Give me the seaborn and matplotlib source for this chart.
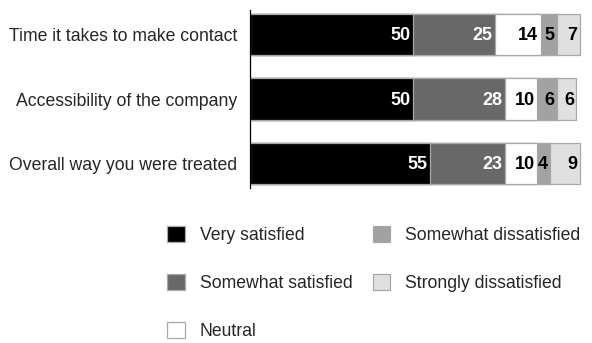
import matplotlib
matplotlib.use("Agg")
import matplotlib.pyplot as plt
import matplotlib.patches as mpatches
import numpy as np
import pandas as pd
import seaborn as sns

sns.set_style("white")
plt.rcParams["font.family"] = ["Liberation Sans", "DejaVu Sans"]

categories = ["Time it takes to make contact",
              "Accessibility of the company",
              "Overall way you were treated"]
series = ["Very satisfied", "Somewhat satisfied", "Neutral",
          "Somewhat dissatisfied", "Strongly dissatisfied"]
very_satisfied = [50, 50, 55]
somewhat_satisfied = [25, 28, 23]
neutral = [14, 10, 10]
somewhat_dissatisfied = [5, 6, 4]
strongly_dissatisfied = [7, 6, 9]

colors = ["#000000", "#686868", "#ffffff", "#a2a2a2", "#e0e0e0"]
label_colors = ["white", "white", "black", "black", "black"]

values = np.array([very_satisfied, somewhat_satisfied, neutral,
                   somewhat_dissatisfied, strongly_dissatisfied], dtype=float)
cum = values.cumsum(axis=0)

fig = plt.figure(figsize=(5.92, 3.43), dpi=100)
ax = fig.add_axes([250 / 592, 1 - 188 / 343, 333 / 592, 178 / 343])

# stacked bars: draw cumulative totals from the outermost segment inward
for i in reversed(range(len(series))):
    df = pd.DataFrame({"category": categories, "value": cum[i]})
    sns.barplot(data=df, x="value", y="category", orient="y", ax=ax,
                color=colors[i], saturation=1, width=0.64,
                edgecolor="#a8a8a8", linewidth=0.9)

for i in range(len(series)):
    for j in range(len(categories)):
        ax.text(cum[i, j] - 0.7, j + 0.02, f"{int(values[i, j])}",
                ha="right", va="center", color=label_colors[i],
                fontsize=13, fontweight="bold")

ax.set_xlim(0, 102)
ax.set_ylim(2.38, -0.38)
ax.set_xlabel("")
ax.set_ylabel("")
ax.set_xticks([])
ax.tick_params(axis="y", length=0, pad=9, labelsize=12.7)
for s in ["top", "right", "bottom"]:
    ax.spines[s].set_visible(False)
ax.spines["left"].set_color("#000000")
ax.spines["left"].set_linewidth(0.9)

handles = [mpatches.Patch(facecolor=c, edgecolor="#a8a8a8", linewidth=0.9)
           for c in colors]
fig.legend(handles, series, ncol=2, loc="upper left",
           bbox_to_anchor=(151 / 592, 1 - 210 / 343), frameon=False,
           fontsize=12.7, handlelength=1.0, handleheight=1.0,
           handletextpad=0.85, labelspacing=1.72, columnspacing=1.15)

fig.savefig("out.png", dpi=100)
